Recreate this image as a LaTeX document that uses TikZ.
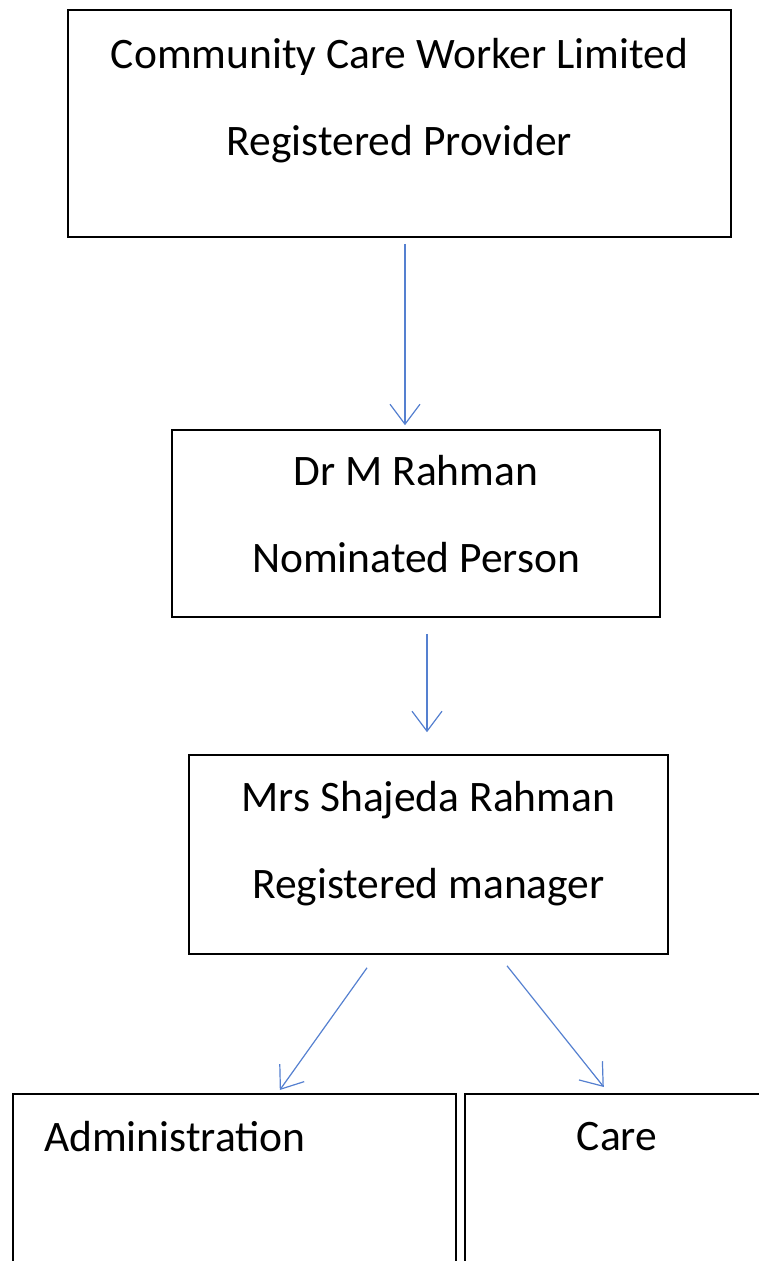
\documentclass[tikz,border=0pt]{standalone}
\usepackage{fontspec}
\setmainfont{Carlito}
\usetikzlibrary{arrows.meta}
\definecolor{arrblue}{HTML}{5580D0}
\tikzset{box/.style={draw,line width=1.6pt,align=center,inner sep=0pt,font=\fontsize{43.5}{87}\selectfont},
  lbl/.style={inner sep=0pt,font=\fontsize{43.5}{50}\selectfont},
  arr/.style={-{Straight Barb[length=20pt,width=30pt]},line width=1.2pt,color=arrblue}}

\begin{document}
\begin{tikzpicture}[x=1pt,y=-1pt]
\useasboundingbox (0,0) rectangle (759,1261);
\clip (0,0) rectangle (759,1261);
% boxes
\node[box,minimum width=663pt,minimum height=227pt,text depth=54pt] (prov) at (399.5,123.5)
  {Community Care Worker Limited\\Registered Provider};
\node[box,minimum width=488pt,minimum height=187pt,text depth=20pt] (nom) at (416,523.5)
  {Dr M Rahman\\Nominated Person};
\node[box,minimum width=479pt,minimum height=199pt,text depth=30pt] (mgr) at (428.5,854.5)
  {Mrs Shajeda Rahman\\Registered manager};
\node[draw,line width=1.6pt,minimum width=443pt,minimum height=220pt,anchor=north west] (adm) at (12,1093) {};
\node[draw,line width=1.6pt,minimum width=330pt,minimum height=220pt,anchor=north west] (care) at (464,1093) {};
\node[lbl,anchor=west] (admtxt) at (44,1137) {Administration};
\node[lbl] (caretxt) at (617,1137) {Care};
% arrows
\draw[arr] ([xshift=5.5pt,yshift=-6pt]prov.south) -- ([xshift=-11pt,yshift=4pt]nom.north);
\draw[arr] ([xshift=11pt,yshift=-16pt]nom.south) -- ([xshift=-1.5pt,yshift=22pt]mgr.north);
\draw[arr] ([xshift=-61.5pt,yshift=-13pt]mgr.south) -- ([xshift=45.5pt,yshift=3pt]adm.north);
\draw[arr] ([xshift=78.5pt,yshift=-11pt]mgr.south) -- ([xshift=-26pt,yshift=6pt]care.north);
\end{tikzpicture}
\end{document}
